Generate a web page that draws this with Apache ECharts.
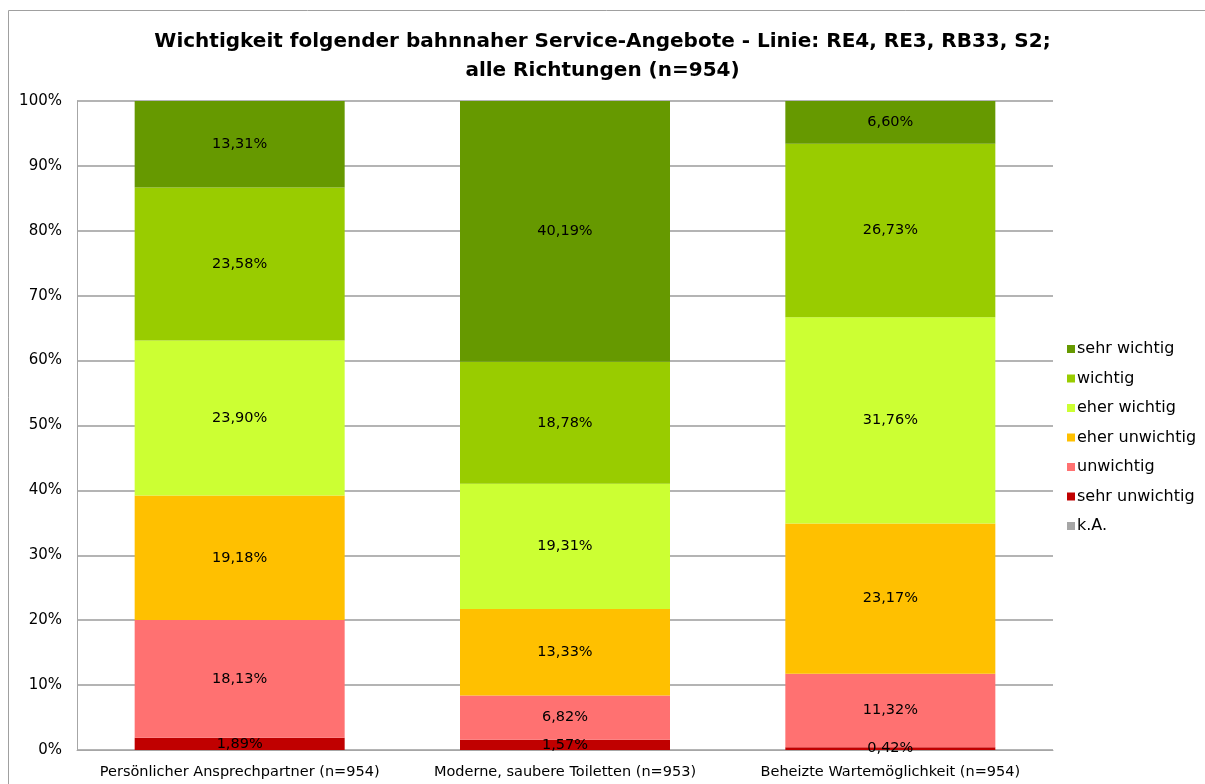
<!DOCTYPE html>
<html>
<head>
<meta charset="utf-8">
<script src="https://cdn.jsdelivr.net/npm/echarts@6/dist/echarts.min.js"></script>
<style>
  html, body { margin: 0; padding: 0; background: #fff; }
  #chart { width: 1205px; height: 784px; }
</style>
</head>
<body>
<div id="chart"></div>
<script>
// Kategorien (x-Achse)
const categories = ['Persönlicher Ansprechpartner (n=954)', 'Moderne, saubere Toiletten (n=953)', 'Beheizte Wartemöglichkeit (n=954)'];

// Werte in Prozent, je Antwortstufe
const kA            = [0, 0, 0];
const sehrUnwichtig = [1.89, 1.57, 0.42];
const unwichtig     = [18.13, 6.82, 11.32];
const eherUnwichtig = [19.18, 13.33, 23.17];
const eherWichtig   = [23.90, 19.31, 31.76];
const wichtig       = [23.58, 18.78, 26.73];
const sehrWichtig   = [13.31, 40.19, 6.60];

const yTicks = [0, 10, 20, 30, 40, 50, 60, 70, 80, 90, 100];

const font = 'DejaVu Sans, Tahoma, sans-serif';

let chartDom = document.getElementById('chart');
let myChart = echarts.init(chartDom);

// Serie von unten nach oben gestapelt
const mkSeries = (name, data, color) => ({
  name: name,
  type: 'bar',
  stack: 'total',
  barWidth: 210,
  data: data,
  itemStyle: { color: color },
  label: {
    show: true,
    position: 'inside',
    color: '#000',
    fontFamily: font,
    fontSize: 14.5,
    formatter: p => p.value ? p.value.toFixed(2).replace('.', ',') + '%' : ''
  },
  emphasis: { disabled: true }
});

let option = {
  animation: false,
  title: {
    text: 'Wichtigkeit folgender bahnnaher Service-Angebote - Linie: RE4, RE3, RB33, S2;\nalle Richtungen (n=954)',
    left: 'center',
    top: 22,
    textStyle: { fontFamily: font, fontSize: 20, fontWeight: 'bold', color: '#000', lineHeight: 29 }
  },
  // Rahmen des Diagrammbereichs (nur oben und links sichtbar)
  graphic: [
    { type: 'line', shape: { x1: 8.5, y1: 10.5, x2: 1205, y2: 10.5 }, style: { stroke: '#a0a0a0', lineWidth: 1 }, silent: true },
    { type: 'line', shape: { x1: 8.5, y1: 10.5, x2: 8.5, y2: 784 }, style: { stroke: '#a0a0a0', lineWidth: 1 }, silent: true }
  ],
  legend: {
    orient: 'vertical',
    left: 1062,
    top: 336,
    itemWidth: 8,
    itemHeight: 8,
    itemGap: 13.5,
    icon: 'rect',
    data: ['sehr wichtig', 'wichtig', 'eher wichtig', 'eher unwichtig', 'unwichtig', 'sehr unwichtig', 'k.A.'],
    textStyle: { fontFamily: font, fontSize: 16, color: '#000', padding: [0, 0, 0, -3] }
  },
  grid: { left: 77, right: 152, top: 101, bottom: 34 },
  xAxis: {
    type: 'category',
    data: categories,
    axisLine: { lineStyle: { color: '#a6a6a6', width: 1 } },
    axisTick: { show: false },
    axisLabel: { fontFamily: font, fontSize: 14.5, color: '#000', margin: 15, interval: 0 }
  },
  yAxis: {
    type: 'value',
    min: yTicks[0],
    max: yTicks[yTicks.length - 1],
    interval: 10,
    axisLine: { show: true, lineStyle: { color: '#a6a6a6' } },
    axisTick: { show: false },
    splitLine: { lineStyle: { color: '#b4b4b4', width: 2 } },
    axisLabel: { fontFamily: font, fontSize: 15, color: '#000', margin: 15, formatter: '{value}%' }
  },
  series: [
    mkSeries('k.A.', kA, '#a6a6a6'),
    mkSeries('sehr unwichtig', sehrUnwichtig, '#c00000'),
    mkSeries('unwichtig', unwichtig, '#ff7171'),
    mkSeries('eher unwichtig', eherUnwichtig, '#ffc000'),
    mkSeries('eher wichtig', eherWichtig, '#ccff33'),
    mkSeries('wichtig', wichtig, '#99cc00'),
    mkSeries('sehr wichtig', sehrWichtig, '#669900')
  ]
};

myChart.setOption(option);
</script>
</body>
</html>
